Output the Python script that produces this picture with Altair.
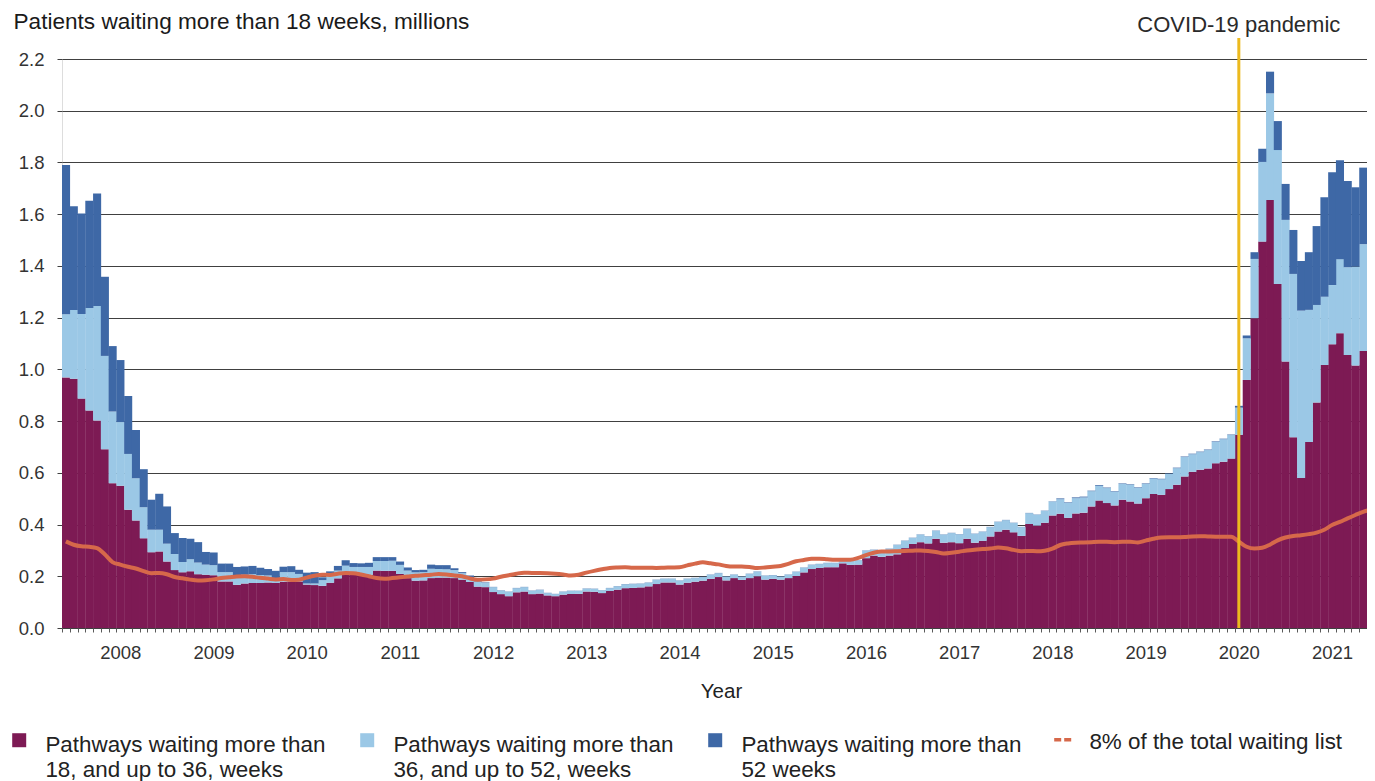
import altair as alt
import pandas as pd

# ---------------- data (millions of pathways, monthly from Aug 2007) ----------------
FIRST_MONTH = "2007-08"
COVID_MONTH = "2020-03"
FIRST_YEAR_LABEL = "2008-03"

SERIES = [
    "Pathways waiting more than 18, and up to 36, weeks",
    "Pathways waiting more than 36, and up to 52, weeks",
    "Pathways waiting more than 52 weeks",
]
LINE_NAME = "8% of the total waiting list"
COVID_LABEL = "COVID-19 pandemic"

S_18_36 = [0.969, 0.964, 0.887, 0.841, 0.802, 0.691, 0.560, 0.550, 0.457, 0.416,
           0.347, 0.293, 0.296, 0.257, 0.224, 0.216, 0.219, 0.208, 0.206, 0.204,
           0.180, 0.180, 0.167, 0.172, 0.174, 0.174, 0.176, 0.174, 0.179, 0.180,
           0.180, 0.168, 0.166, 0.163, 0.175, 0.192, 0.207, 0.209, 0.207, 0.206,
           0.222, 0.221, 0.221, 0.209, 0.193, 0.183, 0.184, 0.193, 0.195, 0.195,
           0.193, 0.187, 0.178, 0.160, 0.158, 0.139, 0.131, 0.123, 0.138, 0.141,
           0.131, 0.133, 0.126, 0.123, 0.129, 0.131, 0.132, 0.141, 0.140, 0.135,
           0.143, 0.148, 0.154, 0.155, 0.157, 0.161, 0.170, 0.176, 0.176, 0.168,
           0.175, 0.179, 0.183, 0.190, 0.197, 0.184, 0.193, 0.186, 0.193, 0.200,
           0.187, 0.190, 0.187, 0.193, 0.201, 0.215, 0.228, 0.232, 0.235, 0.235,
           0.250, 0.244, 0.245, 0.270, 0.280, 0.275, 0.280, 0.285, 0.309, 0.325,
           0.332, 0.327, 0.345, 0.330, 0.332, 0.328, 0.345, 0.330, 0.337, 0.354,
           0.373, 0.380, 0.370, 0.356, 0.402, 0.396, 0.407, 0.435, 0.442, 0.426,
           0.443, 0.446, 0.470, 0.493, 0.483, 0.474, 0.496, 0.489, 0.481, 0.502,
           0.518, 0.515, 0.537, 0.554, 0.586, 0.604, 0.612, 0.617, 0.637, 0.643,
           0.655, 0.747, 0.959, 1.198, 1.494, 1.655, 1.330, 1.030, 0.738, 0.580,
           0.719, 0.872, 1.017, 1.097, 1.140, 1.056, 1.015, 1.071, 1.114]

S_36_52 = [0.244, 0.266, 0.327, 0.396, 0.443, 0.361, 0.277, 0.246, 0.216, 0.163,
           0.120, 0.087, 0.084, 0.069, 0.062, 0.039, 0.047, 0.045, 0.039, 0.039,
           0.036, 0.036, 0.036, 0.034, 0.034, 0.031, 0.027, 0.018, 0.037, 0.036,
           0.029, 0.004, 0.006, 0.022, 0.028, 0.030, 0.034, 0.027, 0.029, 0.030,
           0.037, 0.038, 0.039, 0.035, 0.029, 0.032, 0.032, 0.036, 0.033, 0.032,
           0.031, 0.025, 0.014, 0.020, 0.016, 0.019, 0.014, 0.017, 0.016, 0.017,
           0.013, 0.014, 0.009, 0.008, 0.011, 0.012, 0.011, 0.011, 0.011, 0.010,
           0.011, 0.013, 0.015, 0.015, 0.014, 0.014, 0.016, 0.014, 0.014, 0.015,
           0.015, 0.014, 0.014, 0.016, 0.015, 0.015, 0.013, 0.013, 0.016, 0.018,
           0.015, 0.014, 0.012, 0.013, 0.016, 0.018, 0.016, 0.015, 0.016, 0.016,
           0.007, 0.016, 0.016, 0.029, 0.022, 0.022, 0.026, 0.036, 0.028, 0.023,
           0.029, 0.027, 0.031, 0.031, 0.035, 0.034, 0.038, 0.034, 0.035, 0.036,
           0.037, 0.037, 0.036, 0.034, 0.042, 0.042, 0.046, 0.054, 0.056, 0.058,
           0.059, 0.059, 0.059, 0.057, 0.058, 0.053, 0.061, 0.065, 0.061, 0.055,
           0.060, 0.060, 0.059, 0.064, 0.075, 0.068, 0.068, 0.071, 0.083, 0.087,
           0.091, 0.105, 0.161, 0.229, 0.308, 0.412, 0.518, 0.548, 0.631, 0.647,
           0.511, 0.377, 0.264, 0.229, 0.286, 0.339, 0.382, 0.413, 0.443]

S_52_PLUS = [0.577, 0.401, 0.389, 0.415, 0.435, 0.306, 0.253, 0.240, 0.224, 0.187,
             0.147, 0.116, 0.139, 0.144, 0.081, 0.093, 0.079, 0.079, 0.049, 0.049,
             0.033, 0.033, 0.033, 0.032, 0.032, 0.028, 0.025, 0.029, 0.021, 0.023,
             0.016, 0.042, 0.044, 0.011, 0.016, 0.018, 0.021, 0.015, 0.014, 0.016,
             0.015, 0.015, 0.014, 0.013, 0.012, 0.009, 0.009, 0.016, 0.015, 0.016,
             0.007, 0.004, 0.011, 0.002, 0.002, 0.001, 0.001, 0.001, 0.001, 0.001,
             0.001, 0.001, 0.001, 0.001, 0.001, 0.001, 0.001, 0.001, 0.001, 0.001,
             0.001, 0.001, 0.001, 0.001, 0.001, 0.001, 0.001, 0.001, 0.001, 0.001,
             0.001, 0.001, 0.001, 0.001, 0.001, 0.001, 0.001, 0.001, 0.001, 0.001,
             0.001, 0.001, 0.001, 0.001, 0.001, 0.001, 0.001, 0.001, 0.001, 0.001,
             0.001, 0.001, 0.001, 0.001, 0.001, 0.001, 0.001, 0.001, 0.001, 0.001,
             0.001, 0.001, 0.001, 0.001, 0.001, 0.001, 0.001, 0.001, 0.001, 0.001,
             0.001, 0.001, 0.001, 0.001, 0.001, 0.001, 0.001, 0.001, 0.003, 0.002,
             0.003, 0.003, 0.002, 0.003, 0.002, 0.002, 0.002, 0.002, 0.002, 0.002,
             0.002, 0.002, 0.002, 0.002, 0.002, 0.002, 0.002, 0.002, 0.002, 0.002,
             0.002, 0.007, 0.011, 0.026, 0.051, 0.084, 0.112, 0.139, 0.170, 0.192,
             0.223, 0.305, 0.384, 0.436, 0.383, 0.333, 0.307, 0.296, 0.291]

EIGHT_PCT = [0.335, 0.322, 0.316, 0.314, 0.309, 0.285, 0.255, 0.245, 0.237, 0.230,
             0.220, 0.212, 0.213, 0.208, 0.197, 0.192, 0.187, 0.184, 0.185, 0.188,
             0.193, 0.196, 0.199, 0.200, 0.198, 0.194, 0.191, 0.188, 0.189, 0.186,
             0.187, 0.195, 0.202, 0.206, 0.205, 0.210, 0.213, 0.212, 0.207, 0.200,
             0.193, 0.190, 0.193, 0.196, 0.199, 0.202, 0.204, 0.206, 0.209, 0.207,
             0.203, 0.200, 0.192, 0.187, 0.188, 0.191, 0.198, 0.204, 0.210, 0.214,
             0.213, 0.213, 0.212, 0.210, 0.207, 0.203, 0.206, 0.214, 0.221, 0.227,
             0.232, 0.234, 0.235, 0.233, 0.233, 0.233, 0.232, 0.233, 0.234, 0.235,
             0.242, 0.249, 0.254, 0.250, 0.246, 0.240, 0.238, 0.238, 0.236, 0.232,
             0.234, 0.237, 0.240, 0.248, 0.258, 0.263, 0.268, 0.268, 0.266, 0.264,
             0.264, 0.264, 0.271, 0.282, 0.291, 0.296, 0.296, 0.297, 0.298, 0.299,
             0.300, 0.298, 0.294, 0.288, 0.291, 0.295, 0.300, 0.303, 0.305, 0.307,
             0.311, 0.308, 0.302, 0.297, 0.298, 0.297, 0.299, 0.307, 0.321, 0.327,
             0.330, 0.331, 0.332, 0.333, 0.333, 0.332, 0.333, 0.333, 0.331, 0.338,
             0.345, 0.350, 0.351, 0.351, 0.352, 0.354, 0.355, 0.354, 0.353, 0.353,
             0.353, 0.334, 0.314, 0.307, 0.310, 0.322, 0.339, 0.350, 0.356, 0.359,
             0.363, 0.369, 0.380, 0.398, 0.410, 0.424, 0.437, 0.449, 0.458]

COLORS = ["#7D1A54", "#9BC8E6", "#3E68A6"]
LINE_COLOR = "#D6684A"
COVID_COLOR = "#ECBA1E"
FONT = "Liberation Sans"

# ---------------- tables ----------------
n = len(S_18_36)
months = [str(p) for p in pd.period_range(FIRST_MONTH, periods=n, freq="M")]
first_label = months.index(FIRST_YEAR_LABEL)
first_year = int(FIRST_YEAR_LABEL[:4])
covid_i = months.index(COVID_MONTH)

rows = []
for k, (name, vals) in enumerate(zip(SERIES, [S_18_36, S_36_52, S_52_PLUS])):
    for i, v in enumerate(vals):
        rows.append({"i": i, "month": months[i], "series": name, "order": k, "value": v})
bars_df = pd.DataFrame(rows)
line_df = pd.DataFrame({"i": list(range(n)), "value": EIGHT_PCT, "series": LINE_NAME})
covid_df = pd.DataFrame({"i": [covid_i], "label": [COVID_LABEL]})

# ---------------- scales / axes ----------------
# the view is cropped at the right edge, as in the reference (last month runs off-page)
X_MAX = n - 1
W, H = 1305, 569
xscale = alt.Scale(domain=[0, X_MAX], nice=False, zero=False)
yscale = alt.Scale(domain=[0, 2.2], nice=False, zero=True)
bar_w = W / X_MAX

label_expr = (f"(datum.value - {first_label}) % 12 == 0 && datum.value >= {first_label} "
              f"? toString({first_year} + (datum.value - {first_label}) / 12) : ''")

xaxis = alt.Axis(values=list(range(X_MAX + 1)), labelExpr=label_expr, labelOffset=bar_w / 2,
                 labelOverlap=False, labelBound=False, labelFlush=False, labelAngle=0,
                 tickSize=4, tickColor="#5a5a5a", tickWidth=1, domain=False, grid=False,
                 labelFontSize=18.5, labelColor="#333333", labelPadding=11, labelFont=FONT,
                 title="Year", titleX=659, titleY=69, titleAlign="center",
                 titleBaseline="alphabetic", titleFontSize=20.5, titleFontWeight="normal",
                 titleColor="#222222", titleFont=FONT)

yaxis = alt.Axis(values=[round(0.2 * k, 1) for k in range(12)], format=".1f", grid=True,
                 gridColor="#404040", gridWidth=1, domain=False, tickSize=5,
                 tickColor="#404040", tickWidth=1, labelPadding=13, labelFontSize=18.5,
                 labelColor="#333333", labelFont=FONT,
                 title="Patients waiting more than 18 weeks, millions", titleAngle=0,
                 titleAlign="left", titleBaseline="alphabetic", titleX=-49, titleY=-31,
                 titleFontSize=22.6, titleFontWeight="normal", titleColor="#1a1a1a",
                 titleFont=FONT)

fill_legend = alt.Legend(title=None, orient="none", legendX=-54, legendY=664,
                         direction="horizontal", columns=3, columnPadding=30,
                         symbolType="M-1,-0.14H1V1.86H-1Z", symbolSize=196,
                         symbolStrokeWidth=0, symbolOpacity=1,
                         labelExpr="split(replace(datum.label, 'than ', 'than|'), '|')",
                         labelBaseline="top", labelFontSize=22.4, labelLimit=600,
                         labelOffset=15, labelColor="#222222", labelFont=FONT)

stroke_legend = alt.Legend(title=None, orient="none", legendX=990, legendY=661,
                           symbolType="M-1,0.96H1", symbolSize=324,
                           symbolStrokeWidth=3.5, symbolDash=[7, 3],
                           labelBaseline="top", labelFontSize=22.4, labelLimit=600,
                           labelOffset=15, labelColor="#222222", labelFont=FONT)

# ---------------- layers ----------------
bars = alt.Chart(bars_df).transform_calculate(
    i2="datum.i + 1.04"
).transform_stack(
    stack="value", groupby=["i"], as_=["y0", "y1"],
    sort=[alt.SortField("order", order="ascending")]
).mark_bar(clip=True, strokeWidth=0).encode(
    x=alt.X("i:Q", scale=xscale, axis=xaxis),
    x2="i2:Q",
    y=alt.Y("y0:Q", scale=yscale, axis=yaxis),
    y2="y1:Q",
    fill=alt.Fill("series:N", scale=alt.Scale(domain=SERIES, range=COLORS),
                  legend=fill_legend),
)

line = alt.Chart(line_df).transform_calculate(
    xc="datum.i + 0.5"
).mark_line(strokeWidth=4, interpolate="monotone", clip=True).encode(
    x=alt.X("xc:Q", scale=xscale, axis=xaxis),
    y=alt.Y("value:Q", scale=yscale, axis=yaxis),
    stroke=alt.Stroke("series:N", scale=alt.Scale(domain=[LINE_NAME], range=[LINE_COLOR]),
                      legend=stroke_legend),
)

covid_rule = alt.Chart(covid_df).transform_calculate(
    xc="datum.i + 0.5"
).mark_rule(color=COVID_COLOR, strokeWidth=3).encode(
    x=alt.X("xc:Q", scale=xscale, axis=xaxis),
    y=alt.datum(0),
    y2=alt.value(-21),
)

covid_text = alt.Chart(covid_df).transform_calculate(
    xc="datum.i + 0.5"
).mark_text(font=FONT, fontSize=22, color="#2a2a2a", align="center",
            baseline="alphabetic").encode(
    x=alt.X("xc:Q", scale=xscale, axis=xaxis),
    y=alt.value(-27),
    text="label:N",
)

chart = alt.layer(bars, line, covid_rule, covid_text).properties(
    width=W, height=H,
    autosize=alt.AutoSizeParams(type="none"),
    padding={"left": 54, "top": 51, "right": 0, "bottom": 153},
).configure_view(stroke=None).configure(font=FONT, background="white")

chart.save("out.html", embed_options={"renderer": "svg", "actions": False})
